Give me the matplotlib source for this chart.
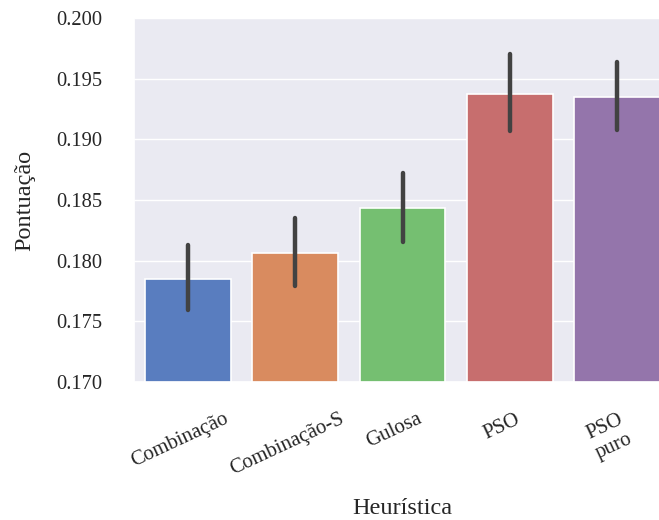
import matplotlib
matplotlib.use("Agg")
import matplotlib.pyplot as plt
import matplotlib.transforms as mtransforms
import seaborn as sns
import numpy as np

# Data
heuristics = ["Combinação", "Combinação-S", "Gulosa", "PSO", "PSO\npuro"]
scores = [0.1785, 0.1806, 0.1843, 0.1937, 0.1935]
ci_low = [0.1759, 0.1779, 0.1815, 0.1907, 0.1908]
ci_high = [0.1813, 0.1835, 0.1872, 0.1970, 0.1964]

sns.set_theme(style="darkgrid")
plt.rcParams["font.family"] = ["Liberation Serif", "DejaVu Serif"]

colors = [sns.desaturate(c, 0.75) for c in sns.color_palette("muted", len(heuristics))]

fig = plt.figure(figsize=(6.59, 5.20), dpi=100)
ax = fig.add_axes([0.2033, 0.2654, 0.815, 0.70])

x = np.arange(len(heuristics))
ax.bar(x, scores, width=0.8, color=colors, edgecolor="white", linewidth=1.2, zorder=2)
ax.vlines(x, ci_low, ci_high, color=".26", linewidth=3.2, zorder=3, capstyle="round")

ax.set_xlim(-0.5, len(heuristics) - 0.5)
ax.set_ylim(0.170, 0.200)
ax.set_yticks(np.arange(0.170, 0.2001, 0.005))
ax.yaxis.set_major_formatter(matplotlib.ticker.FormatStrFormatter("%.3f"))
ax.grid(axis="x", visible=False)
ax.set_xticks(x)
ax.set_xticklabels(heuristics, rotation=25, fontsize=15)
ax.tick_params(axis="y", labelsize=14.8, pad=17)
ax.tick_params(axis="x", pad=14)

# nudge rotated tick labels slightly left, as in the reference
shift = mtransforms.ScaledTranslation(-8 / 100, 0, fig.dpi_scale_trans)
for lab in ax.get_xticklabels():
    lab.set_transform(lab.get_transform() + shift)

ax.set_xlabel("Heurística", fontsize=17.5, labelpad=13.5)
ax.set_ylabel("Pontuação", fontsize=17.5, labelpad=14.5)

fig.savefig("out.png", dpi=100)
